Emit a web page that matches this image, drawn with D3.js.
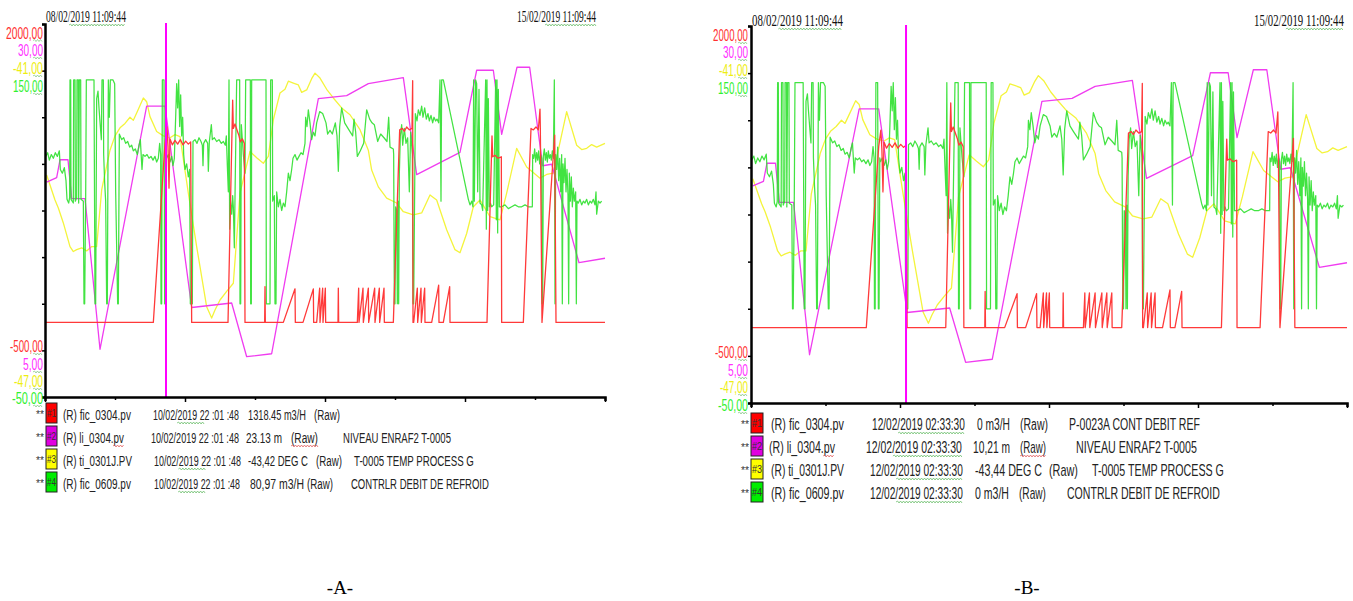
<!DOCTYPE html>
<html><head><meta charset="utf-8">
<script src="https://cdn.jsdelivr.net/npm/d3@7"></script>
<style>body{margin:0;background:#fff}svg{display:block}</style>
</head><body>
<svg id="c" width="1353" height="601"></svg>
<script>
// ---------- DATA ----------
const startLabel = "08/02/2019 11:09:44";
const endLabel = "15/02/2019 11:09:44";
const hoursSpan = [0, 168];               // 7 days shown
const xTickHours = [0, 21, 42, 63, 84, 105, 126, 147, 168];

const seriesTags = ["(R) fic_0304.pv", "(R) li_0304.pv", "(R) ti_0301J.PV", "(R) fic_0609.pv"];
const seriesIds = ["#1", "#2", "#3", "#4"];
const seriesDomains = [[-500, 2000], [5, 30], [-47, -41], [-50, 150]];
const scaleTopLabels = ["2000,00", "30,00", "-41,00", "150,00"];
const scaleBottomLabels = ["-500,00", "5,00", "-47,00", "-50,00"];
const descA = ["", "NIVEAU ENRAF2 T-0005", "T-0005 TEMP PROCESS G", "CONTRLR DEBIT DE REFROID"];
const descB = ["P-0023A CONT DEBIT REF", "NIVEAU ENRAF2 T-0005", "T-0005 TEMP PROCESS G", "CONTRLR DEBIT DE REFROID"];
const cursorDateA = "10/02/2019  22 :01 :48";
const cursorDateB = "12/02/2019  02:33:30";
const valuesA = ["1318.45  m3/H", "23.13  m", "-43,42 DEG C", "80,97 m3/H"];
const valuesB = ["0 m3/H", "10,21 m", "-43,44 DEG C", "0 m3/H"];
const cursorHours = [36.3, 43.7];          // cursor position in panel A and B
const panelLetters = ["-A-", "-B-"];

// fic_0304.pv  (m3/H)  [hour, value]
const redFlow = [[0,0],[32.5,0],[36.0,1200],[36.6,1310],[36.9,1180],[37.2,900],[37.5,1230],[38.2,1190],[39,1220],[39.8,1195],[40.6,1225],[41.4,1190],[42.2,1215],[43,1195],[43.7,1210],[44.0,0],
[54.9,0],[56.3,1490],[56.5,1300],[57,1330],[57.6,1290],[58.2,1250],[58.6,1210],[59.2,1230],[59.8,1200],[60.0,0],
[65.9,0],[66.0,240],[66.1,0],[71.5,0],[75.0,225],[75.1,0],[77.4,0],[80.5,225],[80.6,0],
[81.5,0],[82.4,230],[82.5,0],[83.3,230],[83.4,0],[84.1,230],[84.2,0],[87.9,0],[88.0,230],[88.1,0],
[93.7,0],[94.1,230],[94.2,0],[95.4,230],[95.5,0],[97.0,230],[97.1,0],[98.9,230],[99.0,0],[100.3,230],[100.4,0],[101.7,230],[101.8,0],
[104.5,0],[106.4,1290],[107.2,1300],[107.8,1280],[108.5,1310],[109.3,1290],[110.1,1300],[110.3,1620],[110.4,0],
[110.6,0],[111.7,230],[111.8,0],[112.8,230],[112.9,0],[113.9,230],[114.0,0],[116.0,0],[118.1,250],[118.2,0],[119.5,0],[121.4,240],[121.5,0],
[132.6,0],[134.1,1250],[134.3,1110],[135,1120],[135.9,1100],[136.9,1110],[137.0,0],
[143.5,0],[145.8,1300],[146.5,1290],[147.3,1310],[148.0,1290],[148.5,1430],[148.6,1300],[149.1,0],[152.9,1255],[153.3,0],[168,0]];

// li_0304.pv  (m)
const magentaLevel = [[0.5,19.4],[3.5,19.7],[4.5,20.9],[6.9,20.9],[8.0,18.3],[12.0,18.3],[16.5,8.2],[30.5,24.5],[36.0,24.5],[44.0,11.0],[56.0,11.3],[60.5,7.7],[68.0,7.9],[82.0,25.0],[90.5,25.2],[97.0,26.0],[107.5,26.4],[111.5,19.9],[124.5,21.4],[129.5,26.9],[134.5,26.9],[137.0,22.6],[141.6,27.1],[145.4,27.1],[149.3,20.5],[152.0,20.6],[160.2,14.0],[168,14.3]];

// ti_0301J.PV  (DEG C)
const yellowTemp = [[0.5,-43.43],[3.0,-43.83],[4.0,-43.96],[5.5,-44.2],[7.5,-44.58],[8.5,-44.66],[9.5,-44.63],[11,-44.6],[12.5,-44.65],[14,-44.58],[15.5,-44.58],[17.0,-43.67],[19.5,-43.03],[21,-42.8],[22.5,-42.67],[24,-42.6],[25.5,-42.5],[26.5,-42.55],[27.5,-42.43],[29.5,-42.19],[30.5,-42.25],[31.5,-42.49],[33.5,-42.73],[35.5,-42.8],[37.5,-42.83],[39,-42.78],[40.5,-42.81],[43.0,-43.72],[45.5,-44.58],[48.5,-45.55],[50.0,-45.73],[51,-45.6],[52.5,-45.44],[54.5,-45.3],[56.5,-45.17],[58.5,-43.72],[61.5,-43.05],[63.5,-43.15],[65.5,-43.24],[67.0,-43.13],[68.5,-42.54],[70.5,-42.11],[72,-42.05],[73,-41.92],[74.5,-41.95],[76,-41.98],[77,-42.1],[78.5,-42.06],[80,-41.88],[81.0,-41.79],[82.5,-41.87],[84.5,-42.05],[86.5,-42.19],[89,-42.35],[91.5,-42.46],[94.5,-42.70],[97.0,-43.03],[98.0,-43.35],[100.0,-43.62],[102.5,-43.80],[105.5,-43.88],[107.5,-44.02],[110.5,-44.07],[113.0,-44.04],[115.5,-43.75],[117.5,-43.83],[120.5,-44.31],[123.0,-44.63],[124.5,-44.68],[126.5,-44.37],[128.5,-43.94],[130.5,-43.83],[133.5,-44.10],[136.5,-44.15],[138.5,-43.72],[141.5,-43.00],[144.5,-43.30],[148.5,-43.48],[150.5,-43.42],[152.5,-43.40],[156.5,-42.41],[159.5,-42.95],[161,-43.02],[162.5,-43.00],[164,-42.94],[165.5,-42.98],[168.0,-42.92]];

// fic_0609.pv  (m3/H)
const greenFlow = [[0.2,79],[0.8,81],[1.3,77],[1.9,80],[2.5,78],[3.1,81],[3.7,79],[4.3,82],[4.6,72],[5.2,70],[5.8,73],[6.3,66],[6.6,56],[7.1,54],[7.4,57],
[7.5,120],[7.7,120],[7.8,56],[8.5,54],[8.6,120],[9.0,120],[9.1,55],[9.5,57],[9.6,120],[10.0,120],[10.1,54],[10.3,120],[10.7,120],[10.8,56],[11.5,55],[11.7,0],[11.9,0],[12.2,57],[12.4,120],[14.7,120],[15.0,0],[15.2,0],[15.5,110],[15.9,114],[16.2,105],[16.6,95],[16.9,88],[17.1,120],[17.5,120],[17.6,80],[17.9,65],[18.2,55],[18.5,0],[18.7,0],[19.0,120],[19.3,100],[19.6,120],[20.4,120],[20.9,118],[21.2,60],[21.8,0],[22.0,0],[22.3,91],
[23.0,88],[23.6,89],[24.2,86],[24.8,87],[25.4,84],[26.0,85],[26.5,82],[27.1,83],[27.7,80],[28.2,85],[28.6,88],[29.1,72],[29.4,80],[30.0,79],[30.6,80],[31.2,78],[31.8,79],[32.4,77],[33.0,79],[33.5,76],[34.0,78],[34.4,86],[34.7,80],[34.8,0],[35.0,0],[35.2,120],[35.7,120],[35.9,0],[36.1,0],[36.3,80],
[36.5,78],[37.0,80],[37.5,76],[38.0,79],[38.4,74],[38.8,78],[39.2,100],[39.5,118],[39.8,105],[40.1,120],[40.4,95],[40.7,112],[41.0,90],[41.3,100],[41.6,80],[42.0,72],[42.5,75],[43.0,68],[43.4,72],[43.6,0],[44.2,0],
[44.4,87],[45.0,88],[45.6,86],[46.2,89],[46.8,87],[47.2,85],[47.4,74],[47.6,86],[48.2,88],[48.8,86],[49.0,71],[49.3,87],[49.9,96],[50.2,88],[50.8,89],[51.5,87],[52.2,88],[52.9,86],[53.5,87],[54.1,85],[54.4,90],[54.7,74],
[55.0,60],[55.2,120],[55.4,40],[55.6,56],[56.0,48],[56.3,58],[56.5,52],[56.8,30],[57.0,57],[57.5,120],[58.4,120],[58.5,0],[58.7,0],[58.9,96],[59.5,80],[60.0,70],[60.2,120],[61.6,120],[61.7,0],[61.9,0],[62.0,120],[66.3,120],[66.4,0],[67.5,0],[67.7,120],[68.2,120],[68.3,55],[68.8,58],[69.0,0],[69.3,0],
[69.5,60],[70.0,52],[70.5,56],[71.0,50],[71.5,54],[72.0,52],[72.5,60],[73.0,70],[73.5,66],[74.0,72],[74.4,78],[75.0,80],[75.6,77],[76.2,79],[76.8,81],[77.4,80],[78.0,86],[78.2,100],[78.6,95],[79.0,104],[79.5,97],[80.0,88],[80.5,92],[81.0,90],
[81.5,97],[82.4,103],[83.3,102],[84.3,97],[84.8,91],[85.5,93],[86.2,91],[87.1,97],[87.6,90],[88.0,71],[88.4,95],[89.0,105],[89.9,97],[90.9,94],[91.6,92],[92.3,90],[92.7,99],[93.2,92],[93.7,79],[94.6,82],[95.6,86],[96.5,104],[97.4,99],[98.1,97],[98.8,96],[99.8,87],[100.7,91],[101.7,89],[102.6,87],[103.1,100],[103.5,84],[104.5,83],
[104.6,80],[104.8,0],[105.0,0],[105.2,52],[105.5,50],[105.7,0],[105.9,55],[106.1,0],[106.3,70],[106.6,90],[107.0,96],[107.3,85],[107.8,94],[108.3,86],[108.8,89],[109.3,60],[109.7,92],[110.2,80],[110.4,0],[110.6,0],
[111.1,102],[111.6,98],[112.0,104],[112.5,101],[113.0,106],[113.4,100],[113.9,105],[114.4,99],[114.9,102],[115.3,98],[115.8,101],[116.3,97],[116.7,100],[117.2,98],[117.6,99],[118.1,97],[118.5,120],[118.8,55],[119.0,120],[119.5,120],[127.0,56],
[127.5,53],[128.0,55],[128.4,52],[128.6,120],[128.8,55],[129.2,120],[129.5,118],[129.8,60],[130.2,115],[130.5,54],[131.0,53],[131.3,50],[132.2,120],[132.4,40],[132.6,120],[132.8,50],[133.0,110],[133.3,52],[133.6,54],[134.0,52],[134.6,53],[135.2,120],[135.4,45],[135.6,120],[135.8,38],[136.0,115],[136.3,52],
[137,52],[138,53],[139,51],[140,52],[141,53],[142,52],[143,52],[144,53],[145,52],[146.2,52],[146.3,80],
[146.6,78],[146.9,83],[147.2,76],[147.5,81],[147.8,77],[148.1,82],[148.4,75],[148.7,80],[149.0,78],[149.1,0],[149.3,0],[149.5,79],[149.8,83],[150.1,77],[150.4,81],[150.7,76],[151.0,82],[151.3,78],[151.6,80],[151.9,77],[152.2,82],[152.5,78],[152.8,120],[153.0,0],
[153.2,80],[153.5,72],[153.8,84],[154.1,66],[154.4,78],[154.7,60],[155.0,80],[155.2,0],[155.4,75],[155.7,65],[156.0,78],[156.3,60],[156.6,72],[156.9,58],[157.1,0],[157.3,70],[157.6,55],[157.9,68],[158.2,52],[158.5,62],[158.8,55],[159.2,60],[159.4,0],[159.6,55],
[160.0,54],[160.5,56],[161.0,53],[161.5,55],[162.0,54],[162.5,56],[163.0,53],[163.5,55],[164.0,54],[164.5,56],[165.0,53],[165.3,60],[165.5,48],[166.0,55],[166.5,54],[167.0,55]];

const seriesData = [redFlow, magentaLevel, yellowTemp, greenFlow];
const seriesColors = ["#ff3a3a", "#f03cf0", "#f4f43c", "#2ee02e"];
const labelColors = ["#ff3030", "#ff30ff", "#eeee10", "#30f030"];
const boxColors = ["#ff0000", "#e000e0", "#ffff00", "#00ee00"];

// ---------- LAYOUT ----------
const svg = d3.select("#c");
const panels = [
  {x0:45, x1:605, y0:24, y1:397, cursor:cursorHours[0], dateY:22, dateFs:16, dateW:80, date2X:517,
   topBase:[38.5,56,74,92], botBase:[352,370,387,404], labelRight:43, labelFs:17, labelW:[37,25,30,30], labelWb:[33,20,29,31],
   legend:{starX:36, boxX:46, boxW:11, rowsBase:[420,443,466,489], fs:15,
     cols:[
       [[63,68],[153,86],[248,58],[314,26],[0,0]],
       [[63,61],[151,88],[246,36],[291,27],[343,108]],
       [[63,69],[154,87],[248,60],[316,26],[354,120]],
       [[63,68],[154,86],[250,54],[307,26],[351,138]]]},
   values:valuesA, desc:descA, cdate:cursorDateA, letterX:340},
  {x0:751, x1:1347, y0:26, y1:403, cursor:cursorHours[1], dateY:26, dateFs:17, dateW:91, date2X:1254,
   topBase:[41,58,76,94], botBase:[358,376,393,411], labelRight:748, labelFs:17, labelW:[35,25,29,30], labelWb:[33,20,28,30],
   legend:{starX:741, boxX:751, boxW:12, rowsBase:[430,453,476,499], fs:16,
     cols:[
       [[771,73],[872,93],[977,33],[1020,28],[1069,131]],
       [[769,66],[866,96],[973,37],[1020,26],[1076,121]],
       [[771,73],[870,93],[975,67],[1049,29],[1092,132]],
       [[771,73],[870,93],[975,34],[1019,27],[1067,153]]]},
   values:valuesB, desc:descB, cdate:cursorDateB, letterX:1027}
];

function wavy(g, x1, x2, y, color){
  let d = `M${x1},${y}`; let up = true;
  for (let x = x1 + 1.5; x <= x2; x += 1.5) { d += `L${x},${y + (up ? -1 : 1)}`; up = !up; }
  g.append("path").attr("d", d).attr("fill","none").attr("stroke",color).attr("stroke-width",0.7);
}
// condensed text: natural glyphs squeezed horizontally to a target width
function txt(g, x, y, s, opts){
  const holder = g.append("g").attr("transform", `translate(${x},${y})`);
  const t = holder.append("text").attr("x",0).attr("y",0).text(s)
    .attr("font-family", opts.ff || "Liberation Sans, Arial, sans-serif")
    .attr("font-size", opts.fs || 14).attr("fill", opts.fill || "#222");
  if (opts.anchor) t.attr("text-anchor", opts.anchor);
  if (opts.w) {
    const w0 = t.node().getComputedTextLength();
    if (w0 > 0) holder.attr("transform", `translate(${x},${y}) scale(${opts.w / w0},1)`);
  }
  return t;
}

panels.forEach((p, pi) => {
  const g = svg.append("g");
  const x = d3.scaleLinear().domain(hoursSpan).range([p.x0, p.x1]);
  const ys = seriesDomains.map(dm => d3.scaleLinear().domain(dm).range([p.y1, p.y0]));

  // series (draw order: yellow, magenta, green, red)
  [2, 1, 3, 0].forEach(si => {
    const line = d3.line().x(d => x(d[0])).y(d => ys[si](d[1]));
    g.append("path").datum(seriesData[si]).attr("d", line)
      .attr("fill","none").attr("stroke", seriesColors[si])
      .attr("stroke-width", si === 3 ? 1.25 : 1.3).attr("stroke-linejoin","round")
      .attr("opacity", si === 3 ? 0.9 : 1);
  });

  // cursor
  g.append("line").attr("x1", x(p.cursor)).attr("x2", x(p.cursor))
    .attr("y1", p.y0 - 1).attr("y2", p.y1).attr("stroke","#ff00ff").attr("stroke-width",2);

  // axes
  const yAx = d3.scaleLinear().domain([0, 8]).range([p.y1, p.y0]);
  const ay = g.append("g").attr("transform", `translate(${p.x0},0)`)
    .call(d3.axisLeft(yAx).tickValues(d3.range(0, 9)).tickSize(3).tickFormat(""));
  ay.select(".domain").attr("stroke","#000").attr("stroke-width",2.5);
  ay.selectAll(".tick line").attr("stroke","#000").attr("stroke-width",1.5);
  const ax = g.append("g").attr("transform", `translate(0,${p.y1})`)
    .call(d3.axisBottom(x).tickValues(xTickHours).tickSize(4).tickFormat(""));
  ax.select(".domain").attr("stroke","#000").attr("stroke-width",2.5);
  ax.selectAll(".tick line").attr("stroke","#000").attr("stroke-width",1.5)
    .attr("y2", (d, i) => i % 2 === 0 ? 5 : 3);

  // dates
  txt(g, p.x0 + 1, p.dateY, startLabel, {ff:"Liberation Serif, Times New Roman, serif", fs:p.dateFs, w:p.dateW, fill:"#111"});
  txt(g, p.date2X, p.dateY, endLabel, {ff:"Liberation Serif, Times New Roman, serif", fs:p.dateFs, w:p.dateW - 1, fill:"#111"});
  wavy(g, p.x0 + p.dateW * 0.3, p.x0 + p.dateW, p.dateY + 3, "#5cb85c");
  wavy(g, p.date2X + p.dateW * 0.35, p.date2X + p.dateW - 1, p.dateY + 3, "#5cb85c");

  // scale labels
  scaleTopLabels.forEach((s, i) => {
    txt(g, p.labelRight, p.topBase[i], s, {fs:p.labelFs, w:p.labelW[i], fill:labelColors[i], anchor:"end"});
    wavy(g, p.labelRight - 10, p.labelRight - 1, p.topBase[i] + 2, "#7cc27c");
  });
  scaleBottomLabels.forEach((s, i) => {
    txt(g, p.labelRight, p.botBase[i], s, {fs:p.labelFs - 1, w:p.labelWb[i], fill:labelColors[i], anchor:"end"});
    wavy(g, p.labelRight - 10, p.labelRight - 1, p.botBase[i] + 2, "#7cc27c");
  });

  // legend
  const L = p.legend;
  seriesTags.forEach((tag, i) => {
    const base = L.rowsBase[i];
    txt(g, L.starX, base - 2, "**", {fs:10, fill:"#333", w:8});
    g.append("rect").attr("x", L.boxX).attr("y", base - 17).attr("width", L.boxW).attr("height", 20)
      .attr("fill", boxColors[i]).attr("stroke","#222").attr("stroke-width",1);
    txt(g, L.boxX + 1, base - 3, seriesIds[i], {fs:10, fill:"#333", w:L.boxW - 2});
    const c = L.cols[i];
    txt(g, c[0][0], base, tag, {fs:L.fs, w:c[0][1]});
    txt(g, c[1][0], base, p.cdate, {fs:L.fs, w:c[1][1]});
    txt(g, c[2][0], base, p.values[i], {fs:L.fs, w:c[2][1]});
    txt(g, c[3][0], base, "(Raw)", {fs:L.fs, w:c[3][1]});
    if (p.desc[i]) txt(g, c[4][0], base, p.desc[i], {fs:L.fs, w:c[4][1]});
    // spell-check squiggles
    if (!(pi === 0 && i === 1)) wavy(g, c[1][0] + c[1][1] * 0.28, c[1][0] + (pi === 0 ? c[1][1] * 0.6 : c[1][1]), base + 3, "#5cb85c");
    if (i === 1) {
      wavy(g, c[0][0] + c[0][1] * 0.82, c[0][0] + c[0][1], base + 3, "#e05050");
      wavy(g, c[3][0], c[3][0] + c[3][1], base + 3, "#e05050");
    }
  });

  txt(g, p.letterX, 594, panelLetters[pi], {ff:"Liberation Serif, Times New Roman, serif", fs:19, fill:"#000", anchor:"middle"});
});
</script>
</body></html>
